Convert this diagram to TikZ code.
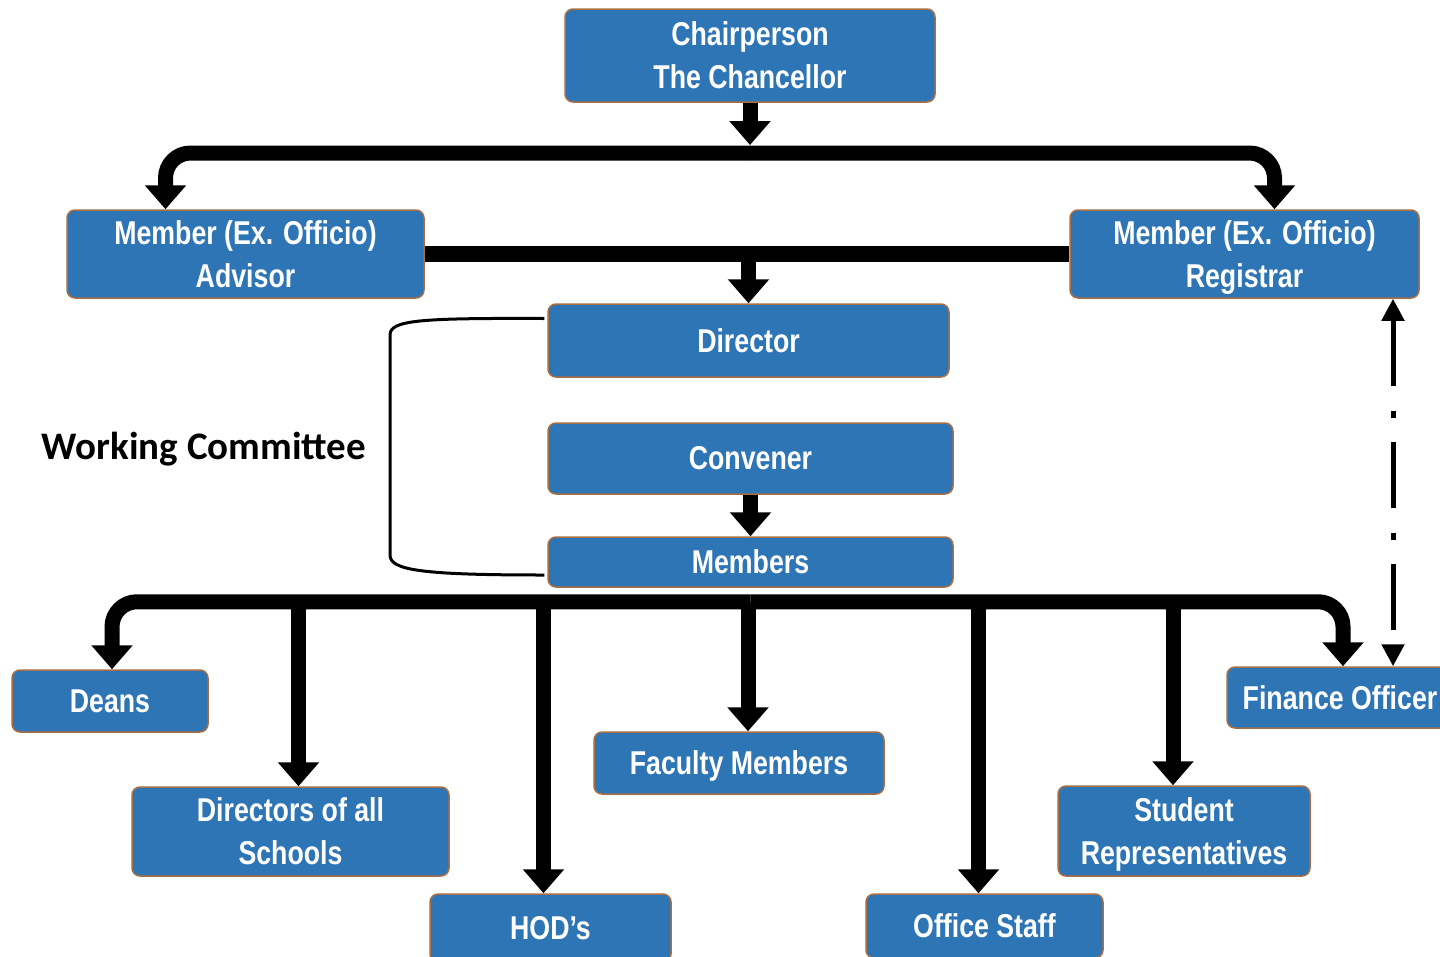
\documentclass[tikz,border=0pt]{standalone}
\usepackage{fontspec}
\setmainfont{Liberation Sans}
\newfontfamily\narrowfont[FakeStretch=0.81]{Liberation Sans}
\newfontfamily\calfont{Carlito}
\usetikzlibrary{arrows.meta}
\definecolor{boxblue}{HTML}{2E75B6}
\definecolor{boxedge}{HTML}{A86E45}
\tikzset{
  box/.style={rectangle, rounded corners=8pt, fill=boxblue, draw=boxedge,
    line width=1.5pt, text=white, align=center, inner sep=0pt,
    font=\narrowfont\bfseries\fontsize{33}{43}\selectfont},
  bigarrow/.style={line width=15pt, -{Triangle[width=40pt,length=24pt]}},
  bar/.style={line width=16pt},
  dotarrow/.style={line width=5pt, dash pattern=on 66pt off 25pt on 7pt off 24pt,
    {Triangle[width=22pt,length=22pt]}-{Triangle[width=22pt,length=22pt]}},
  bracket/.style={line width=3pt}
}
\begin{document}
\begin{tikzpicture}[x=1pt,y=-1pt]
  \useasboundingbox (0,0) rectangle (1440,956);
  \node[box, minimum width=370, minimum height=93] (chair)     at (750,55.5)   {Chairperson\\The Chancellor};
  \node[box, minimum width=357, minimum height=88] (advisor)   at (245.5,254)  {Member (Ex. Officio)\\Advisor};
  \node[box, minimum width=349, minimum height=88] (registrar) at (1244.5,254) {Member (Ex. Officio)\\\smash{Registrar}};
  \node[box, minimum width=401, minimum height=73] (director)  at (748.5,340.5) {Director};
  \node[box, minimum width=405, minimum height=71] (convener)  at (750.5,458.5) {Convener};
  \node[box, minimum width=405, minimum height=50] (members)   at (750.5,562)  {Members};
  \node[box, minimum width=196, minimum height=62] (deans)     at (110,701)    {Deans};
  \node[box, minimum width=317, minimum height=89] (dirs)      at (290.5,831.5) {Directors of all\\Schools};
  \node[box, minimum width=241, minimum height=68] (hods)      at (550.5,928)  {HOD’s};
  \node[box, minimum width=290, minimum height=62, text depth=0pt] (faculty) at (739,763) {Faculty Members};
  \node[box, minimum width=237, minimum height=64] (staff)     at (984.5,926)  {Office Staff};
  \node[box, minimum width=252, minimum height=90] (students)  at (1184,831)   {Student\\\smash{Representatives}};
  \node[box, minimum width=226, minimum height=61] (finance)   at (1340,697.5) {Finance Officer};
  \node[font=\calfont\bfseries\fontsize{39}{44}\selectfont] (wc) at (204,449) {Working Committee};
  % top level
  \coordinate (tjoin) at (750,153);
  \draw [bigarrow] (chair) -- ([yshift=8pt]tjoin);
  \draw [bigarrow, rounded corners=25pt] (tjoin) -| ([xshift=-80pt]advisor.north);
  \draw [bigarrow, rounded corners=25pt] (tjoin) -| ([xshift=30pt]registrar.north);
  \draw [bar] (advisor) -- (registrar);
  \draw [bigarrow] (advisor -| director) -- (director);
  % working committee
  \draw [bigarrow] (convener) -- (members);
  \draw [bracket] ([xshift=-3pt,yshift=22pt]director.west) .. controls (420,318) and (390,320) .. (390,335)
    -- (390,555) .. controls (390,570) and (420,575) .. ([xshift=-3pt,yshift=-13pt]members.west);
  % bottom level
  \coordinate (bjoin) at ([yshift=-14pt]members.south);
  \draw [bigarrow, rounded corners=25pt] (bjoin) -| ([xshift=2pt]deans.north);
  \draw [bigarrow, rounded corners=25pt] (bjoin) -| ([xshift=3pt]finance.north);
  \draw [bigarrow] ([xshift=8pt]dirs.north |- bjoin) -- ([xshift=8pt]dirs.north);
  \draw [bigarrow] ([xshift=-7pt]hods.north |- bjoin) -- ([xshift=-7pt]hods.north);
  \draw [bigarrow] ([xshift=9pt]faculty.north |- bjoin) -- ([xshift=9pt]faculty.north);
  \draw [bigarrow] ([xshift=-6pt]staff.north |- bjoin) -- ([xshift=-6pt]staff.north);
  \draw [bigarrow] ([xshift=-11pt]students.north |- bjoin) -- ([xshift=-11pt]students.north);
  % finance to registrar
  \coordinate (ddx) at (1393,480);
  \draw [dotarrow] (registrar.south -| ddx) -- (finance.north -| ddx);
\end{tikzpicture}
\end{document}
